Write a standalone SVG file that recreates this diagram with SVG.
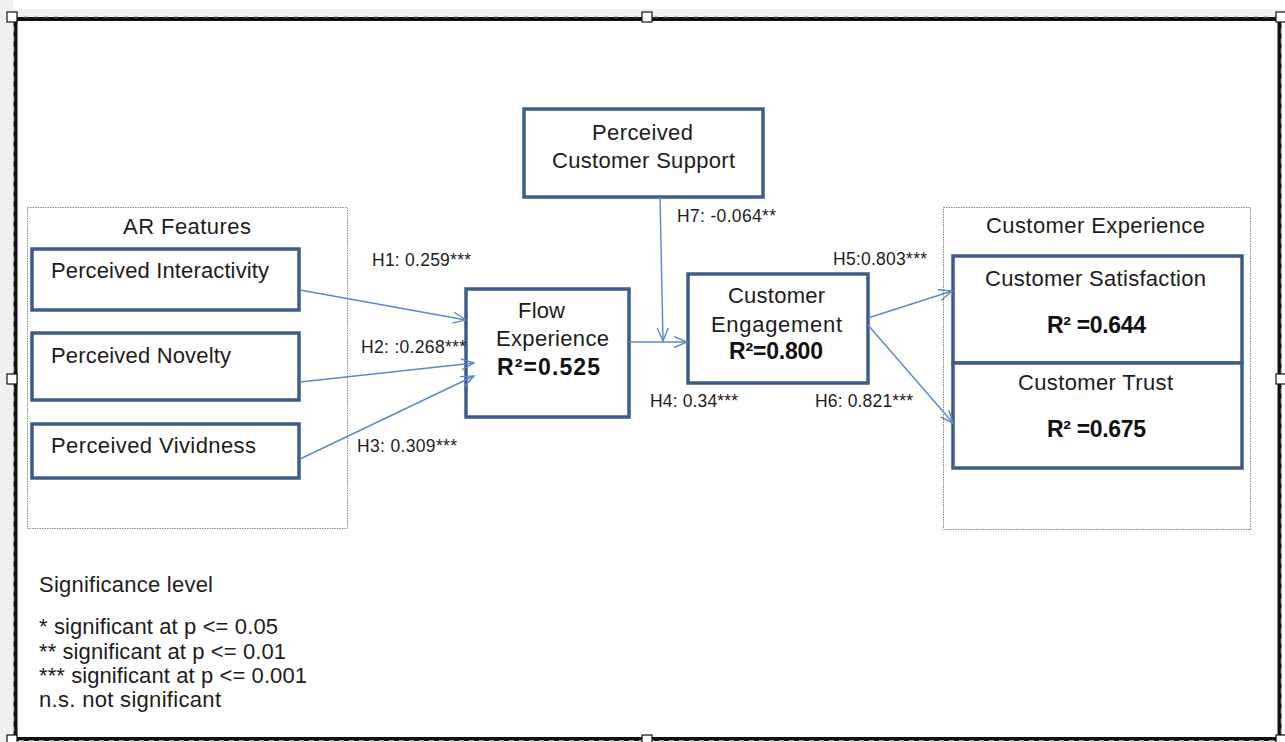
<svg xmlns="http://www.w3.org/2000/svg" width="1285" height="742" viewBox="0 0 1285 742">
  <style>
    .canvas { fill: #ffffff; }
    .margin { fill: #f1f0f0; }
    .frame-solid { fill: none; stroke: #111111; stroke-width: 4; }
    .frame-dash { fill: none; stroke: #c8c8c8; stroke-width: 1.4; stroke-dasharray: 5 5; }
    .handle { fill: #ffffff; stroke: #111111; stroke-width: 1.2; }
    .group-box { fill: none; stroke: #8a8a8a; stroke-width: 1; stroke-dasharray: 1.5 1; }
    .node { fill: #ffffff; stroke: #3d5c89; stroke-width: 3.5; }
    .t { font-family: "Liberation Sans", Arial, sans-serif; font-size: 22px; fill: #1c1c1c; }
    .tb { font-family: "Liberation Sans", Arial, sans-serif; font-size: 23px; font-weight: bold; fill: #111111; }
    .lbl { font-family: "Liberation Sans", Arial, sans-serif; font-size: 17.5px; fill: #1c1c1c; }
    .edge { fill: none; stroke: #5b88c6; stroke-width: 1.4; marker-end: url(#chev); }
  </style>
  <defs>
    <marker id="chev" markerUnits="userSpaceOnUse" markerWidth="16" markerHeight="14" refX="13" refY="6" orient="auto">
      <path d="M0,0.5 L13,6 L0,11.5" fill="none" stroke="#5b88c6" stroke-width="1.4"/>
    </marker>
  </defs>

  <!-- page background and selection frame -->
  <rect class="canvas" x="0" y="0" width="1285" height="742"/>
  <rect class="margin" x="0" y="0" width="13" height="742"/>
  <rect class="margin" x="0" y="9" width="1285" height="7"/>
  <rect class="frame-solid" x="15.5" y="19" width="1264" height="720"/>
  <rect class="frame-dash" x="13.5" y="16.5" width="1268" height="724.5"/>
  <g id="handles">
    <rect class="handle" x="7" y="12" width="10" height="10"/>
    <rect class="handle" x="642" y="12" width="10" height="10"/>
    <rect class="handle" x="1276" y="12" width="10" height="10"/>
    <rect class="handle" x="7" y="374" width="10" height="10"/>
    <rect class="handle" x="1276" y="374" width="10" height="10"/>
    <rect class="handle" x="7" y="735" width="10" height="10"/>
    <rect class="handle" x="642" y="735" width="10" height="10"/>
    <rect class="handle" x="1276" y="735" width="10" height="10"/>
  </g>

  <!-- AR Features group -->
  <g id="ar-features">
    <rect class="group-box" x="27.5" y="207.5" width="320" height="321"/>
    <text class="t" x="123" y="234" textLength="128">AR Features</text>
  </g>
  <g id="perceived-interactivity">
    <rect class="node" x="32" y="249" width="267" height="61"/>
    <text class="t" x="51" y="278" textLength="218">Perceived Interactivity</text>
  </g>
  <g id="perceived-novelty">
    <rect class="node" x="32" y="333" width="267" height="67"/>
    <text class="t" x="51" y="363" textLength="180">Perceived Novelty</text>
  </g>
  <g id="perceived-vividness">
    <rect class="node" x="32" y="424" width="267" height="54"/>
    <text class="t" x="51" y="453" textLength="205">Perceived Vividness</text>
  </g>

  <g id="flow-experience">
    <rect class="node" x="466" y="289" width="163" height="128"/>
    <text class="t" x="518" y="318" textLength="47">Flow</text>
    <text class="t" x="496" y="346" textLength="113">Experience</text>
    <text class="tb" x="497" y="375" textLength="103">R²=0.525</text>
  </g>

  <g id="perceived-customer-support">
    <rect class="node" x="524" y="109" width="239" height="88"/>
    <text class="t" x="592" y="140" textLength="101">Perceived</text>
    <text class="t" x="552" y="168" textLength="183">Customer Support</text>
  </g>

  <g id="customer-engagement">
    <rect class="node" x="688" y="274" width="180" height="109"/>
    <text class="t" x="728" y="303" textLength="97">Customer</text>
    <text class="t" x="711" y="332" textLength="131">Engagement</text>
    <text class="tb" x="729" y="359" textLength="94">R²=0.800</text>
  </g>

  <!-- Customer Experience group -->
  <g id="customer-experience">
    <rect class="group-box" x="943.5" y="207.5" width="307" height="322"/>
    <text class="t" x="986" y="233" textLength="219">Customer Experience</text>
  </g>
  <g id="customer-satisfaction">
    <rect class="node" x="953" y="256" width="289" height="107"/>
    <text class="t" x="985" y="286" textLength="221">Customer Satisfaction</text>
    <text class="tb" x="1047" y="333" textLength="99">R² =0.644</text>
  </g>
  <g id="customer-trust">
    <rect class="node" x="953" y="363" width="289" height="105"/>
    <text class="t" x="1018" y="390" textLength="155">Customer Trust</text>
    <text class="tb" x="1047" y="437" textLength="99">R² =0.675</text>
  </g>

  <!-- paths with coefficients -->
  <g id="connectors">
    <path class="edge" d="M300,290 L466,320"/>
    <path class="edge" d="M300,382 L474,363"/>
    <path class="edge" d="M300,459 L474,376"/>
    <path class="edge" d="M629,342 L687,342"/>
    <path class="edge" d="M660,197 L663,341"/>
    <path class="edge" d="M868,318 L952,291"/>
    <path class="edge" d="M868,325 L953,423"/>
    <text class="lbl" x="372" y="266" textLength="99">H1: 0.259***</text>
    <text class="lbl" x="361" y="353" textLength="105">H2: :0.268***</text>
    <text class="lbl" x="357" y="452" textLength="100">H3: 0.309***</text>
    <text class="lbl" x="677" y="222" textLength="99">H7: -0.064**</text>
    <text class="lbl" x="833" y="265" textLength="94">H5:0.803***</text>
    <text class="lbl" x="650" y="407" textLength="88">H4: 0.34***</text>
    <text class="lbl" x="815" y="407" textLength="98">H6: 0.821***</text>
  </g>

  <!-- significance legend -->
  <g id="legend">
    <text class="t" x="39" y="592" textLength="174">Significance level</text>
    <text class="t" x="39" y="634" textLength="239">* significant at p &lt;= 0.05</text>
    <text class="t" x="39" y="659" textLength="247">** significant at p &lt;= 0.01</text>
    <text class="t" x="39" y="683" textLength="268">*** significant at p &lt;= 0.001</text>
    <text class="t" x="39" y="707" textLength="182">n.s. not significant</text>
  </g>
</svg>
